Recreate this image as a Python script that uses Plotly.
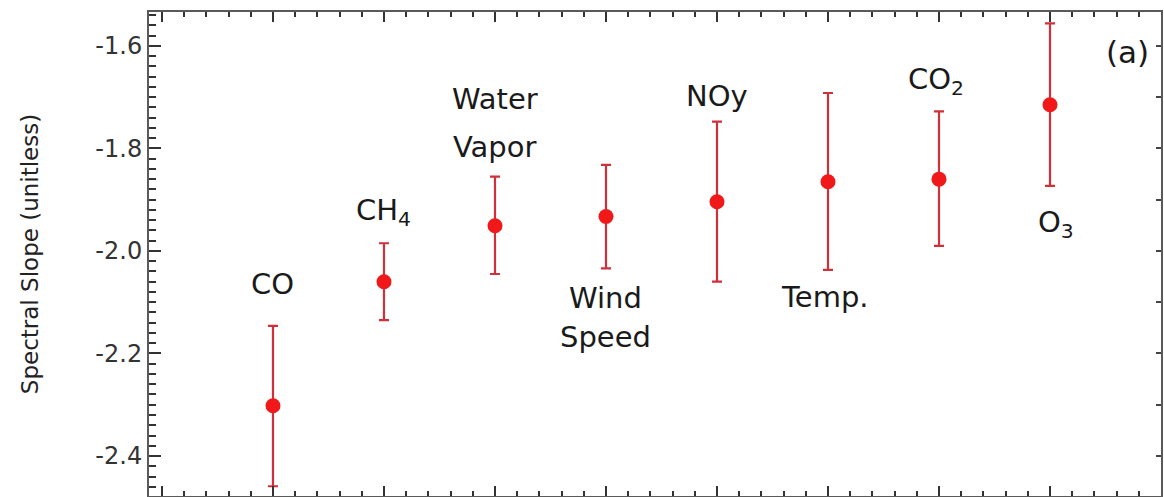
import plotly.graph_objects as go

# ---- data ----
species = ["CO", "CH4", "Water Vapor", "Wind Speed", "NOy", "Temp.", "CO2", "O3"]
slope = [-2.302, -2.060, -1.951, -1.933, -1.904, -1.865, -1.860, -1.715]
err_hi = [-2.146, -1.985, -1.855, -1.832, -1.748, -1.692, -1.728, -1.556]
err_lo = [-2.459, -2.135, -2.045, -2.034, -2.060, -2.037, -1.990, -1.873]

ytick_vals = [-2.4, -2.2, -2.0, -1.8, -1.6]
ytick_text = ["-2.4", "-2.2", "-2.0", "-1.8", "-1.6"]

# label text lines and their placement (annotation layout)
label_lines = [["CO"], ["CH<sub>4</sub>"], ["Water", "Vapor"], ["Wind", "Speed"],
               ["NOy"], ["Temp."], ["CO<sub>2</sub>"], ["O<sub>3</sub>"]]
label_y = [[-2.064], [-1.925], [-1.703, -1.797], [-2.091, -2.168],
           [-1.698], [-2.090], [-1.668], [-1.947]]
label_dx = [0, 0, 0, 0, 0, -0.03, -0.03, 0.05]

xpos = list(range(1, len(species) + 1))
plus = [h - s for h, s in zip(err_hi, slope)]
minus = [s - l for s, l in zip(slope, err_lo)]

fig = go.Figure()
fig.add_trace(go.Scatter(
    x=xpos, y=slope, mode="markers",
    marker=dict(color="#f01818", size=15, line=dict(width=0)),
    error_y=dict(type="data", symmetric=False, array=plus, arrayminus=minus,
                 color="#d0303a", thickness=2.2, width=5),
    showlegend=False, hoverinfo="skip"))
# invisible trace for right-side ticks
fig.add_trace(go.Scatter(x=[None], y=[None], yaxis="y2", showlegend=False))

LBL = dict(family="DejaVu Sans", size=29, color="#1a1a1a")
for i, (lines, ys) in enumerate(zip(label_lines, label_y)):
    for t, yy in zip(lines, ys):
        fig.add_annotation(x=xpos[i] + label_dx[i], y=yy, xref="x", yref="y",
                           text=t, showarrow=False, font=LBL,
                           xanchor="center", yanchor="middle")

fig.add_annotation(xref="paper", yref="paper",
                   x=(1127 - 149) / (1161 - 149),
                   y=1 - (52 - 12) / (496 - 12),
                   xanchor="center", yanchor="middle", text="(a)",
                   showarrow=False,
                   font=dict(family="DejaVu Sans", size=31, color="#1a1a1a"))

yr = [-2.478, -1.534]
axcol = "#5a5a5a"
fig.update_layout(
    width=1164, height=497,
    margin=dict(l=149, r=3, t=12, b=1),
    paper_bgcolor="white", plot_bgcolor="white",
    xaxis=dict(range=[-0.117, 9.0], showgrid=False, zeroline=False,
               showline=True, linecolor=axcol, linewidth=2, mirror="ticks",
               ticks="inside", tickmode="linear", tick0=0, dtick=1,
               ticklen=10, tickwidth=1.5, tickcolor="#333",
               showticklabels=False,
               minor=dict(ticks="inside", dtick=0.2, tick0=0, ticklen=5,
                          tickwidth=1.5, tickcolor="#333")),
    yaxis=dict(range=yr, showgrid=False, zeroline=False,
               showline=True, linecolor=axcol, linewidth=2, mirror=True,
               ticks="inside", tickmode="array", tickvals=ytick_vals,
               ticktext=ytick_text,
               ticklen=12, tickwidth=1.5, tickcolor="#333",
               tickfont=dict(family="DejaVu Sans", size=24, color="#333"),
               title=dict(text="Spectral Slope (unitless)", standoff=50,
                          font=dict(family="DejaVu Sans", size=23, color="#222")),
               minor=dict(ticks="inside", dtick=0.02, tick0=-2.4, ticklen=7,
                          tickwidth=1.5, tickcolor="#333")),
    yaxis2=dict(range=yr, overlaying="y", side="right", showgrid=False,
                zeroline=False, showline=False, ticks="inside",
                tickmode="linear", tick0=-2.4, dtick=0.1, ticklen=5,
                tickwidth=1.5, tickcolor="#444", showticklabels=False),
)

fig.write_html("out.html")
